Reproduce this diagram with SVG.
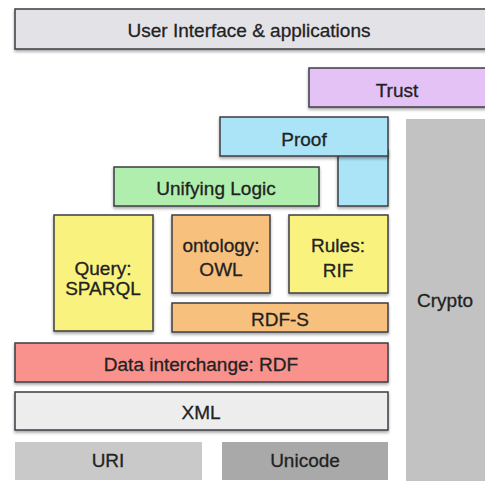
<svg xmlns="http://www.w3.org/2000/svg" width="485" height="482" viewBox="0 0 485 482">
<defs>
<filter id="sh" x="-10%" y="-10%" width="120%" height="140%">
<feDropShadow dx="0" dy="2" stdDeviation="1.5" flood-color="#000" flood-opacity="0.35"/>
</filter>
<style>
.b{stroke:#3c3c44;stroke-width:1.5;filter:url(#sh)}
.f{stroke:none}
text{font-family:"Liberation Sans",Arial,sans-serif;font-size:19px;fill:#222;stroke:#222;stroke-width:0.3;text-anchor:middle}
</style>
</defs>
<rect width="485" height="482" fill="#fff"/>
<g id="ui"><rect class="b" x="15" y="9" width="480" height="40" fill="#e3e2e7"/><text x="249" y="37">User Interface &amp; applications</text></g>
<g id="trust"><rect class="b" x="309" y="68" width="186" height="39" fill="#e4c2f5"/><text x="397" y="97">Trust</text></g>
<g id="crypto"><rect class="f" x="406" y="119" width="85" height="362" fill="#c2c2c2"/><text x="445" y="307">Crypto</text></g>
<g id="proof"><rect class="b" x="338" y="150" width="50" height="56" fill="#abe3f7"/><rect class="b" x="220" y="117" width="168" height="39" fill="#abe3f7"/><text x="304" y="146">Proof</text></g>
<g id="logic"><rect class="b" x="114" y="167" width="205" height="39" fill="#b0eeae"/><text x="216" y="195">Unifying Logic</text></g>
<g id="query"><rect class="b" x="54" y="215" width="99" height="116" fill="#f9f27e"/><text x="103" y="275">Query:</text><text x="103" y="295">SPARQL</text></g>
<g id="owl"><rect class="b" x="172" y="215" width="98" height="78" fill="#f7c07c"/><text x="221" y="252">ontology:</text><text x="221" y="276">OWL</text></g>
<g id="rif"><rect class="b" x="289" y="215" width="99" height="78" fill="#f9f27e"/><text x="338" y="252">Rules:</text><text x="338" y="277">RIF</text></g>
<g id="rdfs"><rect class="b" x="172" y="303" width="216" height="29" fill="#f7c07c"/><text x="280" y="326">RDF-S</text></g>
<g id="rdf"><rect class="b" x="15" y="343" width="373" height="39" fill="#f9918c"/><text x="201" y="371">Data interchange: RDF</text></g>
<g id="xml"><rect class="b" x="15" y="392" width="373" height="38" fill="#eeeded"/><text x="201" y="419">XML</text></g>
<g id="uri"><rect class="f" x="15" y="442" width="187" height="38" fill="#c9c9c9"/><text x="108" y="467">URI</text></g>
<g id="unicode"><rect class="f" x="222" y="442" width="166" height="38" fill="#a9a9a9"/><text x="305" y="467">Unicode</text></g>
<g id="connectors"/>
</svg>
